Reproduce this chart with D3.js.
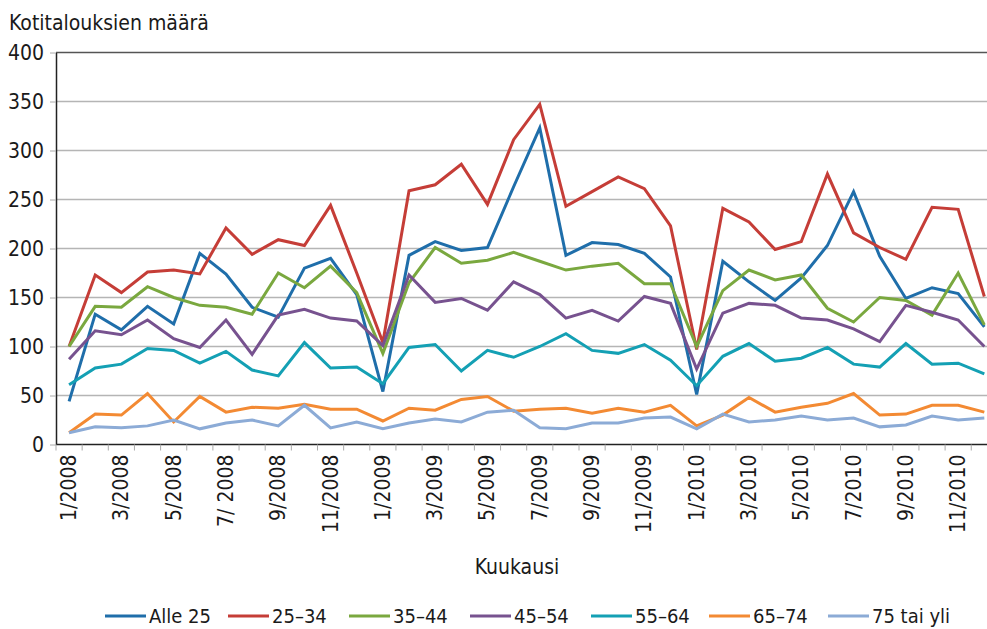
<!DOCTYPE html>
<html>
<head>
<meta charset="utf-8">
<script src="https://cdn.jsdelivr.net/npm/d3@7"></script>
<style>
  html, body { margin: 0; padding: 0; background: #fff; }
  svg text { font-family: "DejaVu Sans Condensed", "DejaVu Sans", sans-serif; fill: #1a1a1a; }
</style>
</head>
<body>
<svg id="chart" width="987" height="629"></svg>
<script>
// months 1/2008 .. 12/2010
const months = [];
for (let y = 2008; y <= 2010; y++) for (let m = 1; m <= 12; m++) months.push(m + "/" + y);
// the reference writes July 2008 with a space
const tickLabels = months.map(d => d === "7/2008" ? "7/ 2008" : d);

const seriesNames = ["Alle 25", "25–34", "35–44", "45–54", "55–64", "65–74", "75 tai yli"];
const seriesColors = ["#1f6eaa", "#c53d37", "#7aa83f", "#77528f", "#14a0b4", "#f38a33", "#8cabd6"];

const alle25 = [44, 133, 117, 141, 123, 195, 174, 140, 130, 180, 190, 153,
                54, 193, 207, 198, 201, 263, 323, 193, 206, 204, 195, 171,
                51, 187, 166, 147, 170, 203, 258, 192, 149, 160, 154, 120];
const a25_34 = [100, 173, 155, 176, 178, 174, 221, 194, 209, 203, 244, 175,
                104, 259, 265, 286, 245, 311, 347, 243, 258, 273, 261, 223,
                97, 241, 227, 199, 207, 276, 216, 201, 189, 242, 240, 151];
const a35_44 = [100, 141, 140, 161, 150, 142, 140, 133, 175, 160, 182, 155,
                93, 165, 201, 185, 188, 196, 187, 178, 182, 185, 164, 164,
                100, 157, 178, 168, 173, 139, 125, 150, 147, 132, 175, 122];
const a45_54 = [87, 116, 112, 127, 108, 99, 127, 92, 132, 138, 129, 126,
                101, 173, 145, 149, 137, 166, 153, 129, 137, 126, 151, 144,
                77, 134, 144, 142, 129, 127, 118, 105, 142, 135, 127, 100];
const a55_64 = [61, 78, 82, 98, 96, 83, 95, 76, 70, 104, 78, 79,
                62, 99, 102, 75, 96, 89, 100, 113, 96, 93, 102, 86,
                60, 90, 103, 85, 88, 99, 82, 79, 103, 82, 83, 72];
const a65_74 = [12, 31, 30, 52, 23, 49, 33, 38, 37, 41, 36, 36,
                24, 37, 35, 46, 49, 34, 36, 37, 32, 37, 33, 40,
                19, 30, 48, 33, 38, 42, 52, 30, 31, 40, 40, 33];
const a75plus = [12, 18, 17, 19, 25, 16, 22, 25, 19, 40, 17, 23,
                 16, 22, 26, 23, 33, 35, 17, 16, 22, 22, 27, 28,
                 16, 31, 23, 25, 29, 25, 27, 18, 20, 29, 25, 27];
const seriesValues = [alle25, a25_34, a35_44, a45_54, a55_64, a65_74, a75plus];

const yTicks = [0, 50, 100, 150, 200, 250, 300, 350, 400];

const dims = { left: 56, top: 52.5, right: 997.4, bottom: 444.5 };

const svg = d3.select("#chart");

const x = d3.scaleBand().domain(months).range([dims.left, dims.right]);
const y = d3.scaleLinear().domain([0, 400]).range([dims.bottom, dims.top]);

// gridlines
svg.append("g")
  .selectAll("line")
  .data(yTicks.filter(d => d > 0))
  .join("line")
  .attr("x1", dims.left).attr("x2", dims.right)
  .attr("y1", d => y(d)).attr("y2", d => y(d))
  .attr("stroke", d => d === 400 ? "#555" : "#b5b5b5")
  .attr("stroke-width", d => d === 400 ? 1.5 : 1.3);

// y axis
const yAxis = svg.append("g")
  .attr("transform", `translate(${dims.left},0)`)
  .call(d3.axisLeft(y).tickValues(yTicks).tickSize(6).tickSizeOuter(0));
yAxis.select(".domain").attr("stroke", "#222").attr("stroke-width", 1.5);
yAxis.selectAll(".tick line").attr("stroke", "#aaa");
yAxis.selectAll(".tick text")
  .attr("x", -12)
  .attr("font-size", 21)
  .attr("font-family", "DejaVu Sans Condensed, DejaVu Sans, sans-serif")
  .attr("fill", "#1a1a1a");

// x axis: ticks between months
const xAxisG = svg.append("g");
xAxisG.append("line")
  .attr("x1", dims.left).attr("x2", dims.right)
  .attr("y1", dims.bottom).attr("y2", dims.bottom)
  .attr("stroke", "#222").attr("stroke-width", 1.5);
xAxisG.selectAll("line.tk")
  .data(months)
  .join("line")
  .attr("class", "tk")
  .attr("x1", d => x(d)).attr("x2", d => x(d))
  .attr("y1", dims.bottom).attr("y2", dims.bottom + 6)
  .attr("stroke", "#aaa");
xAxisG.selectAll("text")
  .data(months.filter((d, i) => i % 2 === 0))
  .join("text")
  .attr("transform", d => `translate(${x(d) + x.bandwidth() / 2 + 7},${dims.bottom + 10}) rotate(-90)`)
  .attr("text-anchor", "end")
  .attr("font-size", 21)
  .text(d => tickLabels[months.indexOf(d)]);

// lines
const line = d3.line()
  .x((d, i) => x(months[i]) + x.bandwidth() / 2)
  .y(d => y(d));

svg.append("g")
  .selectAll("path")
  .data(seriesValues)
  .join("path")
  .attr("d", d => line(d))
  .attr("fill", "none")
  .attr("stroke", (d, i) => seriesColors[i])
  .attr("stroke-width", 3)
  .attr("stroke-linejoin", "miter");

// axis titles
svg.append("text")
  .attr("x", 9).attr("y", 30)
  .attr("font-size", 21)
  .text("Kotitalouksien määrä");

svg.append("text")
  .attr("x", 517).attr("y", 574)
  .attr("text-anchor", "middle")
  .attr("font-size", 21)
  .text("Kuukausi");

// legend
const legendX = [105, 228, 349, 470, 591, 709, 828];
const leg = svg.append("g")
  .selectAll("g")
  .data(seriesNames)
  .join("g")
  .attr("transform", (d, i) => `translate(${legendX[i]},616)`);
leg.append("line")
  .attr("x1", 0).attr("x2", 41)
  .attr("stroke", (d, i) => seriesColors[i])
  .attr("stroke-width", 3);
leg.append("text")
  .attr("x", 44).attr("y", 7)
  .attr("font-size", 20)
  .text(d => d);
</script>
</body>
</html>
